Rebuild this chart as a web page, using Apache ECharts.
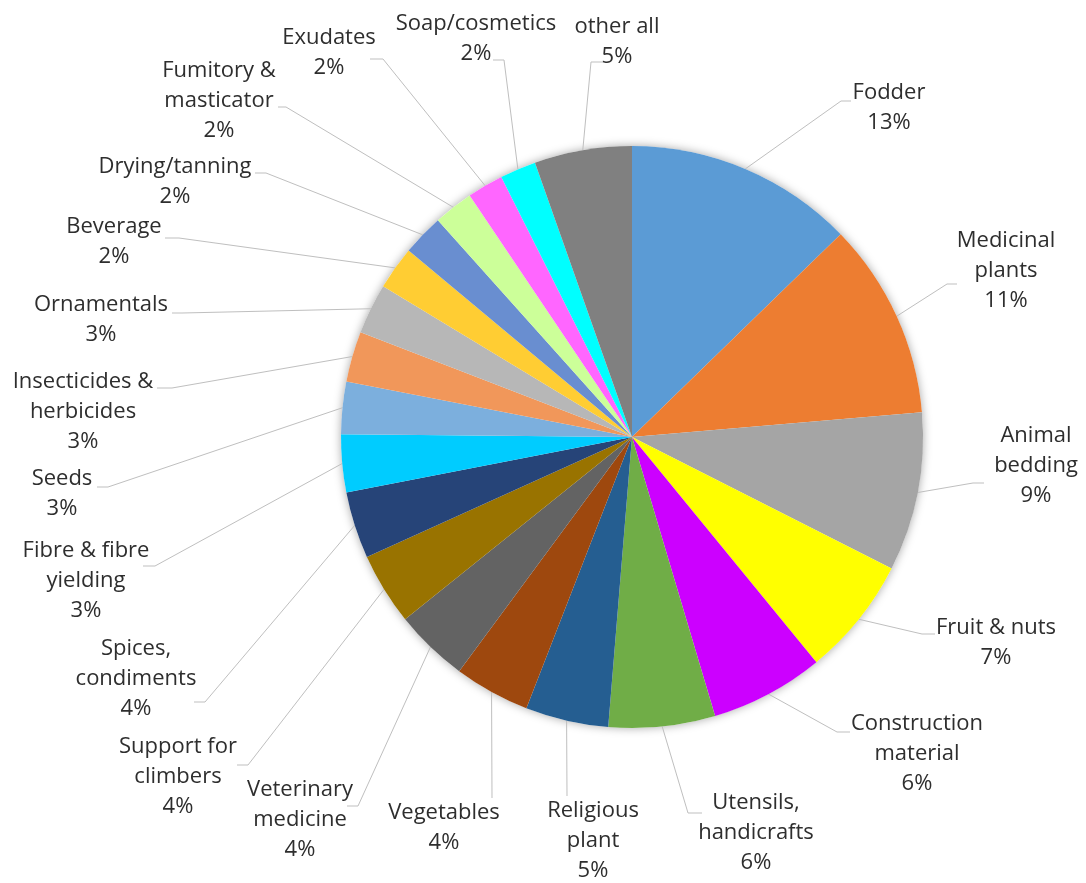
<!DOCTYPE html>
<html>
<head>
<meta charset="utf-8">
<script src="https://cdn.jsdelivr.net/npm/echarts@6/dist/echarts.min.js"></script>
<style>
  html, body { margin: 0; padding: 0; background: #ffffff; }
  #chart { width: 1086px; height: 883px; }
</style>
</head>
<body>
<div id="chart"></div>
<script>
// Uses of plant species, share of all recorded uses (%)
const categories = [
  'Fodder', 'Medicinal\nplants', 'Animal\nbedding', 'Fruit & nuts',
  'Construction\nmaterial', 'Utensils,\nhandicrafts', 'Religious\nplant',
  'Vegetables', 'Veterinary\nmedicine', 'Support for\nclimbers',
  'Spices,\ncondiments', 'Fibre & fibre\nyielding', 'Seeds',
  'Insecticides &\nherbicides', 'Ornamentals', 'Beverage', 'Drying/tanning',
  'Fumitory &\nmasticator', 'Exudates', 'Soap/cosmetics', 'other all'
];
const shares = [
  12.7, 10.9, 8.8, 6.6, 6.3, 5.9, 4.6, 4.2, 4.1, 4.0,
  3.7, 3.2, 2.9, 2.8, 2.8, 2.4, 2.3, 2.2, 2.0, 2.0, 5.4
];
const sliceColors = [
  '#5b9bd5', '#ed7d31', '#a5a5a5', '#ffff00', '#cc00ff', '#70ad47', '#255e91',
  '#9e480e', '#636363', '#997300', '#264478', '#00ccff', '#7cafdd', '#f1975a',
  '#b7b7b7', '#ffcd33', '#698ed0', '#ccff99', '#ff66ff', '#00ffff', '#808080'
];

// Label placement: [labelX, labelY, elbowX, elbowY, endX, endY]
const labelSpots = [
  [889, 108, 841, 101, 851, 101],
  [1006, 271, 947, 284, 957, 284],
  [1036, 466, 973, 483, 984, 483],
  [996, 643, 922, 634, 935, 634],
  [917, 754, 837, 732, 850, 732],
  [756, 833, 688, 813, 702, 813],
  [593, 841, 567, 796, 567, 796],
  [444, 828, 492, 798, 492, 798],
  [300, 820, 358, 806, 347, 806],
  [178, 777, 248, 765, 237, 765],
  [136, 679, 205, 702, 194, 702],
  [86, 581, 155, 566, 143, 566],
  [62, 494, 108, 487, 97, 487],
  [83, 412, 172, 388, 157, 388],
  [101, 320, 182, 313, 172, 313],
  [114, 242, 179, 238, 165, 238],
  [175, 182, 266, 173, 255, 173],
  [219, 101, 286, 107, 278, 107],
  [329, 53, 383, 59, 370, 59],
  [476, 39, 504, 60, 493, 60],
  [617, 42, 591, 62, 603, 62]
];

const chart = echarts.init(document.getElementById('chart'), null, { renderer: 'canvas' });

const pieCenter = [632, 437];
const pieRadius = 291;

chart.setOption({
  backgroundColor: '#ffffff',
  animation: false,
  series: [
    {
      // soft drop shadow behind the pie
      type: 'pie',
      center: pieCenter,
      radius: pieRadius,
      silent: true,
      z: 1,
      label: { show: false },
      labelLine: { show: false },
      data: [{
        value: 1,
        itemStyle: { color: '#ffffff', shadowBlur: 10, shadowColor: 'rgba(0,0,0,0.35)' }
      }]
    },
    {
      type: 'pie',
      center: pieCenter,
      radius: pieRadius,
      startAngle: 90,
      clockwise: true,
      z: 2,
      avoidLabelOverlap: false,
      itemStyle: { borderWidth: 0 },
      data: categories.map((name, i) => ({
        name: name,
        value: shares[i],
        itemStyle: { color: sliceColors[i] }
      })),
      label: {
        show: true,
        position: 'outside',
        color: '#2e2e2e',
        fontFamily: 'Open Sans',
        fontSize: 22,
        lineHeight: 30,
        align: 'center',
        formatter: p => p.name + '\n' + Math.round(p.percent) + '%'
      },
      labelLine: {
        show: true,
        length: 10,
        length2: 10,
        lineStyle: { color: '#bfbfbf', width: 1 }
      },
      labelLayout: p => {
        const s = labelSpots[p.dataIndex];
        if (!s) return {};
        const out = { x: s[0], y: s[1], align: 'center', verticalAlign: 'middle' };
        if (p.labelLinePoints && p.labelLinePoints.length) {
          out.labelLinePoints = [p.labelLinePoints[0], [s[2], s[3]], [s[4], s[5]]];
        }
        return out;
      }
    }
  ]
});
</script>
</body>
</html>
